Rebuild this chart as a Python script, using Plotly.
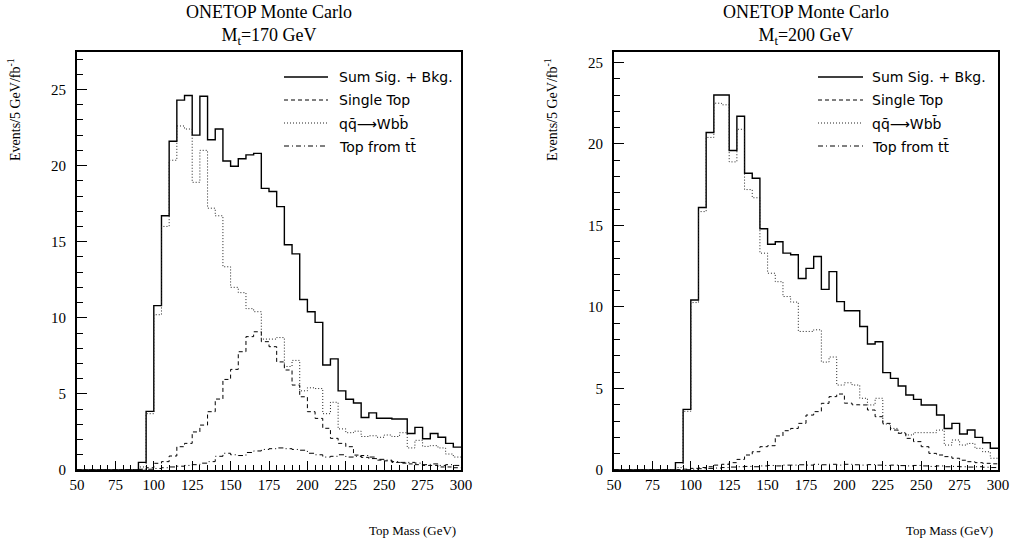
import plotly.graph_objects as go

# ---------------- data ----------------
bin_edges = [50, 55, 60, 65, 70, 75, 80, 85, 90, 95, 100, 105, 110, 115, 120, 125, 130,
             135, 140, 145, 150, 155, 160, 165, 170, 175, 180, 185, 190, 195, 200, 205,
             210, 215, 220, 225, 230, 235, 240, 245, 250, 255, 260, 265, 270, 275, 280,
             285, 290, 295, 300]

# Mt = 170 GeV
sum_170 = [0, 0, 0, 0, 0, 0, 0, 0, 0.5, 3.85, 10.8, 16.7, 21.6, 24.3, 24.6, 22.0, 24.55,
           21.7, 22.4, 20.3, 19.95, 20.45, 20.7, 20.8, 18.5, 18.3, 17.3, 14.8, 14.2, 11.2,
           10.4, 9.7, 6.9, 7.3, 5.2, 4.65, 4.4, 3.45, 3.75, 3.4, 3.4, 3.35, 3.35, 2.4, 2.8,
           2.05, 2.4, 2.15, 1.75, 1.5]
single_170 = [0, 0, 0, 0, 0, 0, 0, 0, 0.05, 0.15, 0.44, 0.55, 0.92, 1.53, 1.75, 2.5, 2.95,
              3.83, 4.66, 5.95, 6.61, 7.77, 8.76, 9.08, 8.43, 8.1, 7.1, 6.57, 5.58, 4.81,
              3.83, 3.39, 2.74, 2.08, 1.75, 1.53, 0.98, 0.83, 0.75, 0.65, 0.6, 0.5, 0.45,
              0.4, 0.35, 0.3, 0.3, 0.2, 0.2, 0.15]
wbb_170 = [0, 0, 0, 0, 0, 0, 0, 0, 0.2, 3.7, 10.2, 16.0, 20.35, 22.6, 22.4, 18.9, 21.0,
           17.2, 16.7, 13.35, 12.0, 11.65, 10.6, 10.4, 8.6, 8.6, 8.7, 6.8, 7.2, 5.2, 5.4,
           5.35, 3.7, 4.45, 2.7, 2.45, 2.55, 2.2, 2.25, 2.15, 2.3, 2.2, 2.45, 1.45, 1.95,
           1.55, 1.6, 1.45, 1.05, 0.85]
ttbar_170 = [0, 0, 0, 0, 0, 0, 0, 0, 0.02, 0.05, 0.1, 0.15, 0.2, 0.25, 0.3, 0.35, 0.45,
             0.55, 0.9, 1.1, 1.0, 0.95, 1.15, 1.25, 1.35, 1.4, 1.45, 1.4, 1.35, 1.3, 1.1,
             1.0, 0.85, 0.9, 1.0, 0.85, 0.9, 0.95, 0.85, 0.7, 0.65, 0.55, 0.5, 0.5, 0.45,
             0.35, 0.4, 0.3, 0.35, 0.3]

# Mt = 200 GeV
sum_200 = [0, 0, 0, 0, 0, 0, 0, 0, 0.45, 3.72, 10.43, 16.1, 20.7, 23.0, 23.0, 19.6, 21.7,
           18.2, 17.9, 14.8, 13.85, 14.0, 13.3, 13.2, 11.75, 12.37, 13.1, 11.08, 12.17,
           10.33, 9.77, 9.77, 8.8, 7.73, 7.87, 5.97, 5.62, 5.15, 4.6, 4.33, 3.99, 3.99,
           3.37, 2.55, 2.86, 2.21, 2.45, 2.0, 1.67, 1.33]
single_200 = [0, 0, 0, 0, 0, 0, 0, 0, 0.02, 0.05, 0.1, 0.15, 0.2, 0.3, 0.35, 0.45, 0.65,
              0.92, 1.12, 1.43, 1.49, 2.09, 2.41, 2.55, 2.86, 3.37, 3.58, 4.09, 4.5, 4.66,
              4.1, 4.0, 3.99, 3.68, 3.27, 2.86, 2.45, 2.25, 1.94, 1.74, 1.43, 1.02, 0.92,
              0.82, 0.72, 0.6, 0.51, 0.45, 0.41, 0.38]
wbb_200 = [0, 0, 0, 0, 0, 0, 0, 0, 0.15, 3.6, 10.27, 15.85, 20.4, 22.5, 22.4, 18.9, 20.9,
           17.2, 16.7, 13.3, 12.07, 11.55, 10.64, 10.3, 8.5, 8.5, 8.6, 6.62, 6.93, 5.21,
           5.35, 5.21, 4.4, 3.99, 4.4, 2.82, 2.55, 2.29, 2.15, 2.29, 2.29, 2.29, 2.45,
           1.53, 1.84, 1.53, 1.63, 1.33, 1.12, 0.72]
ttbar_200 = [0, 0, 0, 0, 0, 0, 0, 0, 0.0, 0.02, 0.05, 0.08, 0.1, 0.12, 0.15, 0.18, 0.2,
             0.22, 0.2, 0.25, 0.28, 0.25, 0.3, 0.3, 0.32, 0.3, 0.35, 0.32, 0.35, 0.3, 0.35,
             0.32, 0.3, 0.33, 0.3, 0.28, 0.3, 0.27, 0.25, 0.28, 0.25, 0.22, 0.25, 0.2,
             0.22, 0.2, 0.18, 0.2, 0.17, 0.15]

series_names = ["Sum Sig. + Bkg.", "Single Top", "q\u0071\u0304\u27f6Wb\u0062\u0304", "Top from t\u0074\u0304"]
panel_titles = ["ONETOP Monte Carlo<br>M<sub>t</sub>=170 GeV", "ONETOP Monte Carlo<br>M<sub>t</sub>=200 GeV"]
x_ticks = [50, 75, 100, 125, 150, 175, 200, 225, 250, 275, 300]
y_ticks = [0, 5, 10, 15, 20, 25]
y_max = [27.46, 25.64]

# ---------------- styling ----------------
W, H = 1011, 544
styles = [
    dict(color="black", width=1.4, dash="solid"),
    dict(color="black", width=1.0, dash="4px,3px"),
    dict(color="#222", width=1.0, dash="1px,2px"),
    dict(color="black", width=1.0, dash="5px,3px,1px,3px"),
]

panels = [
    [sum_170, single_170, wbb_170, ttbar_170],
    [sum_200, single_200, wbb_200, ttbar_200],
]

fig = go.Figure()
for p, data in enumerate(panels):
    xa = "x" if p == 0 else "x2"
    ya = "y" if p == 0 else "y2"
    for s, vals in enumerate(data):
        yvals = list(vals) + [vals[-1]]
        fig.add_trace(go.Scatter(
            x=bin_edges, y=yvals, mode="lines", line_shape="hv",
            line=styles[s], xaxis=xa, yaxis=ya, showlegend=False,
            name=series_names[s], hoverinfo="skip"))

frames = [(77, 461), (614, 998)]
top, bottom = 52, 470
serif = "Liberation Serif"

def xaxis_cfg(p):
    x0, x1 = frames[p]
    return dict(domain=[x0 / W, x1 / W], range=[50, 300], tickvals=x_ticks,
                showline=True, linewidth=2, linecolor="black", mirror=True,
                ticks="inside", ticklen=9, tickwidth=1.2, tickcolor="black",
                showgrid=False, zeroline=False,
                tickfont=dict(family=serif, size=15, color="black"),
                minor=dict(ticks="inside", ticklen=5, tickwidth=1, tickcolor="black",
                           dtick=5, tick0=50, showgrid=False),
                anchor="y" if p == 0 else "y2")

def yaxis_cfg(p):
    return dict(domain=[(H - bottom) / H, (H - top) / H], range=[0, y_max[p]],
                tickvals=y_ticks, showline=True, linewidth=2, linecolor="black",
                mirror=True, ticks="inside", ticklen=10, tickwidth=1.2,
                tickcolor="black", showgrid=False, zeroline=False,
                tickfont=dict(family=serif, size=15, color="black"),
                ticklabelstandoff=6,
                minor=dict(ticks="inside", ticklen=6, tickwidth=1, tickcolor="black",
                           dtick=1, tick0=0, showgrid=False),
                anchor="x" if p == 0 else "x2")

annotations = []
shapes = []
legend_rows = [77, 100, 123, 146]
legend_seg = [(284, 328, 337), (818, 863, 870)]
for p in range(2):
    x0, x1 = frames[p]
    xd = "x domain" if p == 0 else "x2 domain"
    yd = "y domain" if p == 0 else "y2 domain"
    # panel title
    annotations.append(dict(text=panel_titles[p], x=(x0 + x1) / 2 / W, y=1.0,
                            xref="paper", yref="paper", xanchor="center", yanchor="top",
                            showarrow=False, align="center",
                            font=dict(family=serif, size=18, color="black")))
    # x-axis title
    annotations.append(dict(text="Top Mass (GeV)", x=(x1 - 3) / W, y=1 - 530 / H,
                            xref="paper", yref="paper", xanchor="right", yanchor="middle",
                            showarrow=False, font=dict(family=serif, size=13, color="black")))
    # y-axis title
    annotations.append(dict(text="Events/5 GeV/fb<sup>-1</sup>", x=(x0 - 63) / W,
                            y=1 - 110 / H, xref="paper", yref="paper", xanchor="center",
                            yanchor="middle", textangle=-90, showarrow=False,
                            font=dict(family=serif, size=14, color="black")))
    # legend
    sx0, sx1, tx = legend_seg[p]
    for s in range(4):
        yy = (bottom - legend_rows[s]) / (bottom - top)
        shapes.append(dict(type="line", xref=xd, yref=yd,
                           x0=(sx0 - x0) / (x1 - x0), x1=(sx1 - x0) / (x1 - x0),
                           y0=yy, y1=yy, line=styles[s]))
        annotations.append(dict(text=series_names[s], xref=xd, yref=yd,
                                x=(tx - x0) / (x1 - x0), y=yy, xanchor="left",
                                yanchor="middle", showarrow=False,
                                font=dict(family="DejaVu Sans", size=14, color="black")))

fig.update_layout(
    width=W, height=H, margin=dict(l=0, r=0, t=0, b=0, autoexpand=False),
    paper_bgcolor="white", plot_bgcolor="white",
    xaxis=xaxis_cfg(0), yaxis=yaxis_cfg(0), xaxis2=xaxis_cfg(1), yaxis2=yaxis_cfg(1),
    annotations=annotations, shapes=shapes, showlegend=False,
)

fig.write_html("out.html")
